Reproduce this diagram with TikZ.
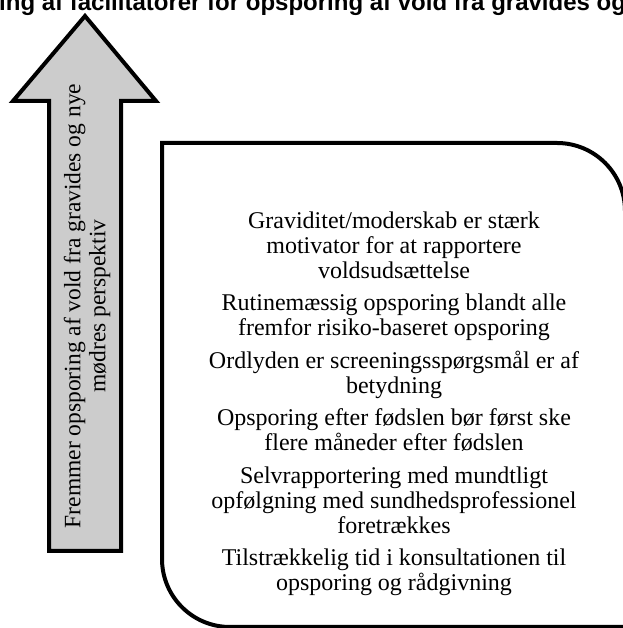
\documentclass[tikz,border=0pt]{standalone}
\usepackage{fontspec}
\setmainfont{Liberation Serif}
\newfontfamily\titelfont{Liberation Sans}
\usetikzlibrary{positioning}
\definecolor{Graa}{RGB}{204,204,204}
\tikzset{pil/.style={draw=black, fill=Graa, line width=4pt, line join=miter}}
\tikzset{boks/.style={draw=black, fill=white, line width=4pt}}
\tikzset{tekst/.style={align=center, font=\fontsize{24}{25}\selectfont, inner sep=0pt}}
\tikzset{titel/.style={font=\titelfont\bfseries\fontsize{24}{28}\selectfont, inner sep=0pt}}

\begin{document}
\begin{tikzpicture}[x=1pt, y=1pt]
\useasboundingbox (0,0) rectangle (622,628);
% titel (skaaret af i toppen)
\node[titel, anchor=base west] (titel) at (-1,617) {ing af facilitatorer for opsporing af vold fra gravides og};
% pil
\draw[pil] (49,77) -- (49,527) -- (13,527) -- (85,612) -- (156,527) -- (121,527) -- (121,77) -- cycle;
\node[tekst, font=\fontsize{23.5}{25}\selectfont, rotate=90] (piltekst) at (87,322) {Fremmer opsporing af vold fra gravides og nye\\mødres perspektiv};
% boks med afrundede hjoerner
\draw[boks] (162,485) -- (557,485) arc[start angle=90, end angle=0, radius=68]
  -- (625,1) -- (230,1) arc[start angle=270, end angle=180, radius=68] -- cycle;
\node[tekst, anchor=north] (punkter) at (394,416.5) {%
Graviditet/moderskab er stærk\\motivator for at rapportere\\voldsudsættelse\\[7.5pt]
Rutinemæssig opsporing blandt alle\\fremfor risiko-baseret opsporing\\[7.5pt]
Ordlyden er screeningsspørgsmål er af\\betydning\\[7.5pt]
Opsporing efter fødslen bør først ske\\flere måneder efter fødslen\\[7.5pt]
Selvrapportering med mundtligt\\opfølgning med sundhedsprofessionel\\foretrækkes\\[7.5pt]
Tilstrækkelig tid i konsultationen til\\opsporing og rådgivning};
\end{tikzpicture}
\end{document}
